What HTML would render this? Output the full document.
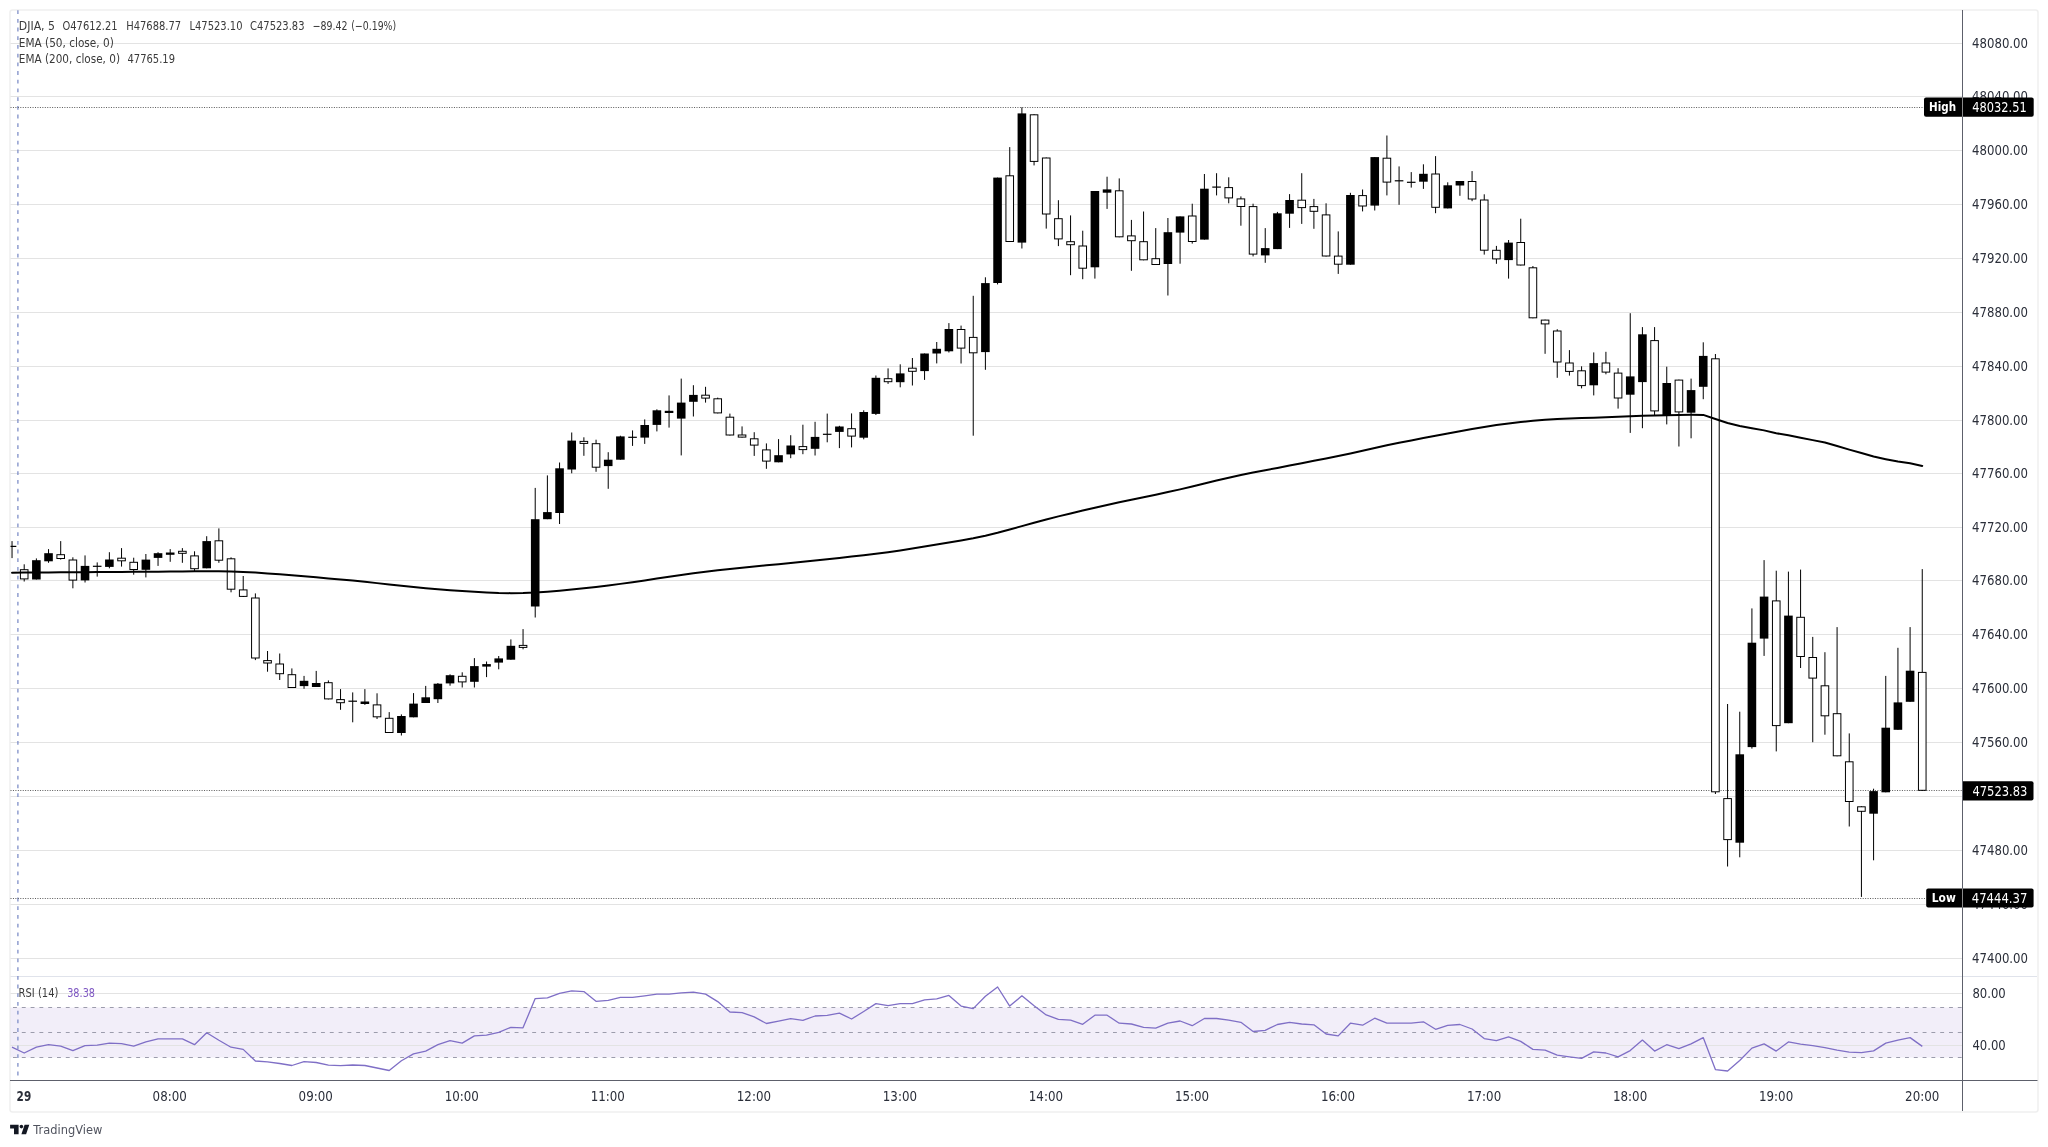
<!DOCTYPE html><html><head><meta charset="utf-8"><title>DJIA 5m chart</title><style>html,body{margin:0;padding:0;background:#fff;width:2048px;height:1147px;overflow:hidden}svg{display:block;will-change:transform}text{font-family:'DejaVu Sans', 'Liberation Sans', sans-serif}</style></head><body>
<svg width="2048" height="1147" viewBox="0 0 2048 1147">
<rect x="0" y="0" width="2048" height="1147" fill="#ffffff"/>
<rect x="10.0" y="10.0" width="2028.0" height="1102.0" rx="2.5" fill="#fff" stroke="#efefef" stroke-width="1.5"/>
<defs><clipPath id="mainclip"><rect x="10.5" y="10.5" width="1951.5" height="965.5"/></clipPath><clipPath id="rsiclip"><rect x="10.5" y="977" width="1951.5" height="103"/></clipPath></defs>
<line x1="10.5" x2="1962" y1="958.5" y2="958.5" stroke="#e3e3e3" stroke-width="1"/>
<line x1="10.5" x2="1962" y1="904.5" y2="904.5" stroke="#e3e3e3" stroke-width="1"/>
<line x1="10.5" x2="1962" y1="850.5" y2="850.5" stroke="#e3e3e3" stroke-width="1"/>
<line x1="10.5" x2="1962" y1="796.5" y2="796.5" stroke="#e3e3e3" stroke-width="1"/>
<line x1="10.5" x2="1962" y1="742.5" y2="742.5" stroke="#e3e3e3" stroke-width="1"/>
<line x1="10.5" x2="1962" y1="688.5" y2="688.5" stroke="#e3e3e3" stroke-width="1"/>
<line x1="10.5" x2="1962" y1="634.5" y2="634.5" stroke="#e3e3e3" stroke-width="1"/>
<line x1="10.5" x2="1962" y1="580.5" y2="580.5" stroke="#e3e3e3" stroke-width="1"/>
<line x1="10.5" x2="1962" y1="527.5" y2="527.5" stroke="#e3e3e3" stroke-width="1"/>
<line x1="10.5" x2="1962" y1="473.5" y2="473.5" stroke="#e3e3e3" stroke-width="1"/>
<line x1="10.5" x2="1962" y1="420.5" y2="420.5" stroke="#e3e3e3" stroke-width="1"/>
<line x1="10.5" x2="1962" y1="366.5" y2="366.5" stroke="#e3e3e3" stroke-width="1"/>
<line x1="10.5" x2="1962" y1="312.5" y2="312.5" stroke="#e3e3e3" stroke-width="1"/>
<line x1="10.5" x2="1962" y1="258.5" y2="258.5" stroke="#e3e3e3" stroke-width="1"/>
<line x1="10.5" x2="1962" y1="204.5" y2="204.5" stroke="#e3e3e3" stroke-width="1"/>
<line x1="10.5" x2="1962" y1="150.5" y2="150.5" stroke="#e3e3e3" stroke-width="1"/>
<line x1="10.5" x2="1962" y1="96.5" y2="96.5" stroke="#e3e3e3" stroke-width="1"/>
<line x1="10.5" x2="1962" y1="43.5" y2="43.5" stroke="#e3e3e3" stroke-width="1"/>
<rect x="10.5" y="1007.5" width="1951.5" height="50.0" fill="#7e57c2" fill-opacity="0.1"/>
<line x1="10.5" x2="1962" y1="993.5" y2="993.5" stroke="#e3e3e3" stroke-width="1"/>
<line x1="10.5" x2="1962" y1="1045.5" y2="1045.5" stroke="#e3e3e3" stroke-width="1"/>
<line x1="13" x2="1962" y1="1007.5" y2="1007.5" stroke="#9c9cac" stroke-width="1" stroke-dasharray="3.9 4.9"/>
<line x1="13" x2="1962" y1="1032.5" y2="1032.5" stroke="#9c9cac" stroke-width="1" stroke-dasharray="3.9 4.9"/>
<line x1="13" x2="1962" y1="1057.5" y2="1057.5" stroke="#9c9cac" stroke-width="1" stroke-dasharray="3.9 4.9"/>
<line x1="10.5" x2="2037" y1="976.5" y2="976.5" stroke="#e0e3eb" stroke-width="1"/>
<line x1="17.9" x2="17.9" y1="10.2" y2="1080" stroke="#7f8fc8" stroke-width="1.3" stroke-dasharray="3.8 4.9"/>
<line x1="10.5" x2="1924" y1="107.5" y2="107.5" stroke="#5a5a5a" stroke-width="1" stroke-dasharray="1 1.45"/>
<line x1="10.5" x2="1926" y1="898.5" y2="898.5" stroke="#5a5a5a" stroke-width="1" stroke-dasharray="1 1.45"/>
<line x1="10.5" x2="1962" y1="790.5" y2="790.5" stroke="#5a5a5a" stroke-width="1" stroke-dasharray="1 1.45"/>
<g clip-path="url(#mainclip)">
<rect x="11.53" y="541.1" width="1" height="17.0" fill="#000"/>
<rect x="7.73" y="545.8" width="8.60" height="1.2" fill="#000"/>
<rect x="23.70" y="564.3" width="1" height="17.2" fill="#000"/>
<rect x="19.90" y="569.2" width="8.60" height="10.2" fill="#000"/>
<rect x="20.90" y="570.2" width="6.60" height="8.2" fill="#fff"/>
<rect x="35.87" y="558.4" width="1" height="21.1" fill="#000"/>
<rect x="32.07" y="560.2" width="8.60" height="19.3" fill="#000"/>
<rect x="48.03" y="549.1" width="1" height="13.7" fill="#000"/>
<rect x="44.23" y="553.2" width="8.60" height="8.1" fill="#000"/>
<rect x="60.20" y="541.1" width="1" height="18.5" fill="#000"/>
<rect x="56.40" y="554.2" width="8.60" height="4.8" fill="#000"/>
<rect x="57.40" y="555.2" width="6.60" height="2.8" fill="#fff"/>
<rect x="72.37" y="557.3" width="1" height="31.0" fill="#000"/>
<rect x="68.57" y="559.5" width="8.60" height="21.1" fill="#000"/>
<rect x="69.57" y="560.5" width="6.60" height="19.1" fill="#fff"/>
<rect x="84.53" y="555.4" width="1" height="27.1" fill="#000"/>
<rect x="80.73" y="565.9" width="8.60" height="14.5" fill="#000"/>
<rect x="96.70" y="562.4" width="1" height="14.2" fill="#000"/>
<rect x="92.90" y="565.7" width="8.60" height="1.2" fill="#000"/>
<rect x="108.87" y="552.2" width="1" height="16.1" fill="#000"/>
<rect x="105.07" y="559.5" width="8.60" height="7.4" fill="#000"/>
<rect x="121.04" y="548.1" width="1" height="18.5" fill="#000"/>
<rect x="117.24" y="557.7" width="8.60" height="3.6" fill="#000"/>
<rect x="118.24" y="558.7" width="6.60" height="1.6" fill="#fff"/>
<rect x="133.20" y="557.7" width="1" height="17.0" fill="#000"/>
<rect x="129.40" y="561.8" width="8.60" height="8.2" fill="#000"/>
<rect x="130.40" y="562.8" width="6.60" height="6.2" fill="#fff"/>
<rect x="145.37" y="554.0" width="1" height="23.4" fill="#000"/>
<rect x="141.57" y="559.6" width="8.60" height="10.2" fill="#000"/>
<rect x="157.54" y="552.2" width="1" height="13.7" fill="#000"/>
<rect x="153.74" y="553.2" width="8.60" height="4.7" fill="#000"/>
<rect x="169.70" y="549.1" width="1" height="12.7" fill="#000"/>
<rect x="165.90" y="552.5" width="8.60" height="2.3" fill="#000"/>
<rect x="181.87" y="548.1" width="1" height="14.7" fill="#000"/>
<rect x="178.07" y="550.8" width="8.60" height="3.0" fill="#000"/>
<rect x="179.07" y="551.8" width="6.60" height="1.0" fill="#fff"/>
<rect x="194.04" y="551.3" width="1" height="19.7" fill="#000"/>
<rect x="190.24" y="555.4" width="8.60" height="13.8" fill="#000"/>
<rect x="191.24" y="556.4" width="6.60" height="11.8" fill="#fff"/>
<rect x="206.20" y="536.2" width="1" height="32.1" fill="#000"/>
<rect x="202.40" y="541.1" width="8.60" height="27.2" fill="#000"/>
<rect x="218.37" y="528.4" width="1" height="34.4" fill="#000"/>
<rect x="214.57" y="540.3" width="8.60" height="20.4" fill="#000"/>
<rect x="215.57" y="541.3" width="6.60" height="18.4" fill="#fff"/>
<rect x="230.54" y="557.3" width="1" height="35.0" fill="#000"/>
<rect x="226.74" y="558.3" width="8.60" height="31.4" fill="#000"/>
<rect x="227.74" y="559.3" width="6.60" height="29.4" fill="#fff"/>
<rect x="242.71" y="576.0" width="1" height="21.0" fill="#000"/>
<rect x="238.91" y="589.4" width="8.60" height="7.5" fill="#000"/>
<rect x="239.91" y="590.4" width="6.60" height="5.5" fill="#fff"/>
<rect x="254.87" y="593.4" width="1" height="66.7" fill="#000"/>
<rect x="251.07" y="597.5" width="8.60" height="61.0" fill="#000"/>
<rect x="252.07" y="598.5" width="6.60" height="59.0" fill="#fff"/>
<rect x="267.04" y="651.0" width="1" height="20.7" fill="#000"/>
<rect x="263.24" y="660.1" width="8.60" height="3.4" fill="#000"/>
<rect x="264.24" y="661.1" width="6.60" height="1.4" fill="#fff"/>
<rect x="279.21" y="653.5" width="1" height="26.5" fill="#000"/>
<rect x="275.41" y="663.5" width="8.60" height="10.7" fill="#000"/>
<rect x="276.41" y="664.5" width="6.60" height="8.7" fill="#fff"/>
<rect x="291.37" y="668.4" width="1" height="19.6" fill="#000"/>
<rect x="287.57" y="674.2" width="8.60" height="13.8" fill="#000"/>
<rect x="288.57" y="675.2" width="6.60" height="11.8" fill="#fff"/>
<rect x="303.54" y="675.9" width="1" height="12.9" fill="#000"/>
<rect x="299.74" y="680.8" width="8.60" height="5.3" fill="#000"/>
<rect x="315.71" y="670.9" width="1" height="16.1" fill="#000"/>
<rect x="311.91" y="683.0" width="8.60" height="4.0" fill="#000"/>
<rect x="327.88" y="680.4" width="1" height="19.0" fill="#000"/>
<rect x="324.07" y="682.2" width="8.60" height="17.2" fill="#000"/>
<rect x="325.07" y="683.2" width="6.60" height="15.2" fill="#fff"/>
<rect x="340.04" y="689.1" width="1" height="20.7" fill="#000"/>
<rect x="336.24" y="699.1" width="8.60" height="4.1" fill="#000"/>
<rect x="337.24" y="700.1" width="6.60" height="2.1" fill="#fff"/>
<rect x="352.21" y="692.4" width="1" height="29.9" fill="#000"/>
<rect x="348.41" y="700.6" width="8.60" height="1.2" fill="#000"/>
<rect x="364.38" y="689.1" width="1" height="15.8" fill="#000"/>
<rect x="360.58" y="701.5" width="8.60" height="2.5" fill="#000"/>
<rect x="376.54" y="693.3" width="1" height="25.7" fill="#000"/>
<rect x="372.74" y="704.4" width="8.60" height="12.9" fill="#000"/>
<rect x="373.74" y="705.4" width="6.60" height="10.9" fill="#fff"/>
<rect x="388.71" y="712.1" width="1" height="20.9" fill="#000"/>
<rect x="384.91" y="717.8" width="8.60" height="15.2" fill="#000"/>
<rect x="385.91" y="718.8" width="6.60" height="13.2" fill="#fff"/>
<rect x="400.88" y="714.4" width="1" height="21.1" fill="#000"/>
<rect x="397.08" y="716.0" width="8.60" height="17.0" fill="#000"/>
<rect x="413.04" y="693.1" width="1" height="24.2" fill="#000"/>
<rect x="409.24" y="703.6" width="8.60" height="13.7" fill="#000"/>
<rect x="425.21" y="685.9" width="1" height="17.1" fill="#000"/>
<rect x="421.41" y="697.3" width="8.60" height="5.7" fill="#000"/>
<rect x="437.38" y="683.0" width="1" height="20.0" fill="#000"/>
<rect x="433.58" y="683.7" width="8.60" height="15.5" fill="#000"/>
<rect x="449.54" y="674.3" width="1" height="11.4" fill="#000"/>
<rect x="445.74" y="675.2" width="8.60" height="8.2" fill="#000"/>
<rect x="461.71" y="672.3" width="1" height="15.2" fill="#000"/>
<rect x="457.91" y="675.8" width="8.60" height="6.6" fill="#000"/>
<rect x="458.91" y="676.8" width="6.60" height="4.6" fill="#fff"/>
<rect x="473.88" y="658.1" width="1" height="29.4" fill="#000"/>
<rect x="470.08" y="666.1" width="8.60" height="15.7" fill="#000"/>
<rect x="486.05" y="661.5" width="1" height="15.6" fill="#000"/>
<rect x="482.25" y="664.1" width="8.60" height="2.5" fill="#000"/>
<rect x="498.21" y="656.0" width="1" height="13.3" fill="#000"/>
<rect x="494.41" y="658.4" width="8.60" height="4.2" fill="#000"/>
<rect x="510.38" y="639.4" width="1" height="20.3" fill="#000"/>
<rect x="506.58" y="645.8" width="8.60" height="13.9" fill="#000"/>
<rect x="522.55" y="629.1" width="1" height="20.2" fill="#000"/>
<rect x="518.75" y="644.9" width="8.60" height="3.0" fill="#000"/>
<rect x="519.75" y="645.9" width="6.60" height="1.0" fill="#fff"/>
<rect x="534.71" y="487.9" width="1" height="129.6" fill="#000"/>
<rect x="530.91" y="519.2" width="8.60" height="87.3" fill="#000"/>
<rect x="546.88" y="475.4" width="1" height="43.8" fill="#000"/>
<rect x="543.08" y="512.1" width="8.60" height="7.1" fill="#000"/>
<rect x="559.05" y="462.5" width="1" height="61.5" fill="#000"/>
<rect x="555.25" y="468.3" width="8.60" height="44.7" fill="#000"/>
<rect x="571.22" y="432.5" width="1" height="40.8" fill="#000"/>
<rect x="567.42" y="440.6" width="8.60" height="28.9" fill="#000"/>
<rect x="583.38" y="437.3" width="1" height="18.5" fill="#000"/>
<rect x="579.58" y="440.9" width="8.60" height="3.0" fill="#000"/>
<rect x="580.58" y="441.9" width="6.60" height="1.0" fill="#fff"/>
<rect x="595.55" y="439.7" width="1" height="32.1" fill="#000"/>
<rect x="591.75" y="443.2" width="8.60" height="24.5" fill="#000"/>
<rect x="592.75" y="444.2" width="6.60" height="22.5" fill="#fff"/>
<rect x="607.72" y="452.2" width="1" height="36.6" fill="#000"/>
<rect x="603.92" y="459.7" width="8.60" height="6.4" fill="#000"/>
<rect x="619.88" y="435.7" width="1" height="24.0" fill="#000"/>
<rect x="616.08" y="436.4" width="8.60" height="23.3" fill="#000"/>
<rect x="632.05" y="430.4" width="1" height="15.5" fill="#000"/>
<rect x="628.25" y="436.7" width="8.60" height="1.2" fill="#000"/>
<rect x="644.22" y="419.4" width="1" height="24.5" fill="#000"/>
<rect x="640.42" y="425.0" width="8.60" height="12.6" fill="#000"/>
<rect x="656.38" y="409.3" width="1" height="22.1" fill="#000"/>
<rect x="652.58" y="410.3" width="8.60" height="14.6" fill="#000"/>
<rect x="668.55" y="395.4" width="1" height="32.2" fill="#000"/>
<rect x="664.75" y="410.8" width="8.60" height="2.2" fill="#000"/>
<rect x="680.72" y="378.6" width="1" height="76.8" fill="#000"/>
<rect x="676.92" y="402.6" width="8.60" height="16.0" fill="#000"/>
<rect x="692.88" y="385.2" width="1" height="31.3" fill="#000"/>
<rect x="689.09" y="394.9" width="8.60" height="6.9" fill="#000"/>
<rect x="705.05" y="386.8" width="1" height="15.8" fill="#000"/>
<rect x="701.25" y="394.7" width="8.60" height="3.9" fill="#000"/>
<rect x="702.25" y="395.7" width="6.60" height="1.9" fill="#fff"/>
<rect x="717.22" y="397.6" width="1" height="15.8" fill="#000"/>
<rect x="713.42" y="398.3" width="8.60" height="15.1" fill="#000"/>
<rect x="714.42" y="399.3" width="6.60" height="13.1" fill="#fff"/>
<rect x="729.39" y="413.6" width="1" height="21.9" fill="#000"/>
<rect x="725.59" y="416.7" width="8.60" height="18.8" fill="#000"/>
<rect x="726.59" y="417.7" width="6.60" height="16.8" fill="#fff"/>
<rect x="741.55" y="426.4" width="1" height="11.2" fill="#000"/>
<rect x="737.75" y="434.5" width="8.60" height="3.1" fill="#000"/>
<rect x="738.75" y="435.5" width="6.60" height="1.1" fill="#fff"/>
<rect x="753.72" y="432.2" width="1" height="23.7" fill="#000"/>
<rect x="749.92" y="438.3" width="8.60" height="7.3" fill="#000"/>
<rect x="750.92" y="439.3" width="6.60" height="5.3" fill="#fff"/>
<rect x="765.89" y="443.4" width="1" height="25.4" fill="#000"/>
<rect x="762.09" y="449.4" width="8.60" height="12.2" fill="#000"/>
<rect x="763.09" y="450.4" width="6.60" height="10.2" fill="#fff"/>
<rect x="778.05" y="439.1" width="1" height="23.2" fill="#000"/>
<rect x="774.25" y="455.2" width="8.60" height="7.1" fill="#000"/>
<rect x="790.22" y="435.2" width="1" height="23.0" fill="#000"/>
<rect x="786.42" y="445.5" width="8.60" height="8.9" fill="#000"/>
<rect x="802.39" y="424.7" width="1" height="29.5" fill="#000"/>
<rect x="798.59" y="446.1" width="8.60" height="4.0" fill="#000"/>
<rect x="799.59" y="447.1" width="6.60" height="2.0" fill="#fff"/>
<rect x="814.56" y="421.8" width="1" height="33.7" fill="#000"/>
<rect x="810.76" y="436.9" width="8.60" height="11.9" fill="#000"/>
<rect x="826.72" y="413.6" width="1" height="28.7" fill="#000"/>
<rect x="822.92" y="433.7" width="8.60" height="1.2" fill="#000"/>
<rect x="838.89" y="425.8" width="1" height="22.3" fill="#000"/>
<rect x="835.09" y="426.5" width="8.60" height="5.4" fill="#000"/>
<rect x="851.06" y="413.4" width="1" height="34.0" fill="#000"/>
<rect x="847.26" y="428.2" width="8.60" height="8.4" fill="#000"/>
<rect x="848.26" y="429.2" width="6.60" height="6.4" fill="#fff"/>
<rect x="863.22" y="410.3" width="1" height="29.0" fill="#000"/>
<rect x="859.42" y="412.0" width="8.60" height="25.7" fill="#000"/>
<rect x="875.39" y="375.5" width="1" height="39.5" fill="#000"/>
<rect x="871.59" y="377.8" width="8.60" height="36.1" fill="#000"/>
<rect x="887.56" y="368.4" width="1" height="15.5" fill="#000"/>
<rect x="883.76" y="378.2" width="8.60" height="4.0" fill="#000"/>
<rect x="884.76" y="379.2" width="6.60" height="2.0" fill="#fff"/>
<rect x="899.72" y="364.3" width="1" height="23.0" fill="#000"/>
<rect x="895.92" y="373.4" width="8.60" height="8.8" fill="#000"/>
<rect x="911.89" y="358.0" width="1" height="27.5" fill="#000"/>
<rect x="908.09" y="367.7" width="8.60" height="4.1" fill="#000"/>
<rect x="909.09" y="368.7" width="6.60" height="2.1" fill="#fff"/>
<rect x="924.06" y="353.5" width="1" height="26.4" fill="#000"/>
<rect x="920.26" y="353.5" width="8.60" height="17.6" fill="#000"/>
<rect x="936.23" y="342.0" width="1" height="21.4" fill="#000"/>
<rect x="932.43" y="348.8" width="8.60" height="4.7" fill="#000"/>
<rect x="948.39" y="323.1" width="1" height="29.4" fill="#000"/>
<rect x="944.59" y="329.0" width="8.60" height="22.3" fill="#000"/>
<rect x="960.56" y="325.6" width="1" height="37.9" fill="#000"/>
<rect x="956.76" y="329.0" width="8.60" height="19.6" fill="#000"/>
<rect x="957.76" y="330.0" width="6.60" height="17.6" fill="#fff"/>
<rect x="972.73" y="295.8" width="1" height="139.9" fill="#000"/>
<rect x="968.93" y="336.9" width="8.60" height="16.4" fill="#000"/>
<rect x="969.93" y="337.9" width="6.60" height="14.4" fill="#fff"/>
<rect x="984.89" y="277.3" width="1" height="92.5" fill="#000"/>
<rect x="981.09" y="283.1" width="8.60" height="69.0" fill="#000"/>
<rect x="997.06" y="177.6" width="1" height="106.8" fill="#000"/>
<rect x="993.26" y="177.6" width="8.60" height="105.4" fill="#000"/>
<rect x="1009.23" y="147.1" width="1" height="94.9" fill="#000"/>
<rect x="1005.43" y="175.3" width="8.60" height="66.7" fill="#000"/>
<rect x="1006.43" y="176.3" width="6.60" height="64.7" fill="#fff"/>
<rect x="1021.39" y="107.3" width="1" height="141.2" fill="#000"/>
<rect x="1017.59" y="113.4" width="8.60" height="129.2" fill="#000"/>
<rect x="1033.56" y="114.3" width="1" height="51.1" fill="#000"/>
<rect x="1029.76" y="114.3" width="8.60" height="47.6" fill="#000"/>
<rect x="1030.76" y="115.3" width="6.60" height="45.6" fill="#fff"/>
<rect x="1045.73" y="157.5" width="1" height="71.1" fill="#000"/>
<rect x="1041.93" y="157.5" width="8.60" height="57.0" fill="#000"/>
<rect x="1042.93" y="158.5" width="6.60" height="55.0" fill="#fff"/>
<rect x="1057.89" y="200.2" width="1" height="45.9" fill="#000"/>
<rect x="1054.10" y="218.2" width="8.60" height="21.2" fill="#000"/>
<rect x="1055.10" y="219.2" width="6.60" height="19.2" fill="#fff"/>
<rect x="1070.06" y="215.4" width="1" height="59.8" fill="#000"/>
<rect x="1066.26" y="241.2" width="8.60" height="4.0" fill="#000"/>
<rect x="1067.26" y="242.2" width="6.60" height="2.0" fill="#fff"/>
<rect x="1082.23" y="230.7" width="1" height="48.5" fill="#000"/>
<rect x="1078.43" y="245.5" width="8.60" height="23.2" fill="#000"/>
<rect x="1079.43" y="246.5" width="6.60" height="21.2" fill="#fff"/>
<rect x="1094.40" y="191.0" width="1" height="87.6" fill="#000"/>
<rect x="1090.60" y="191.0" width="8.60" height="76.3" fill="#000"/>
<rect x="1106.56" y="176.7" width="1" height="32.2" fill="#000"/>
<rect x="1102.76" y="189.4" width="8.60" height="3.3" fill="#000"/>
<rect x="1118.73" y="178.4" width="1" height="58.9" fill="#000"/>
<rect x="1114.93" y="190.3" width="8.60" height="47.0" fill="#000"/>
<rect x="1115.93" y="191.3" width="6.60" height="45.0" fill="#fff"/>
<rect x="1130.90" y="219.9" width="1" height="50.9" fill="#000"/>
<rect x="1127.10" y="235.4" width="8.60" height="5.8" fill="#000"/>
<rect x="1128.10" y="236.4" width="6.60" height="3.8" fill="#fff"/>
<rect x="1143.06" y="211.5" width="1" height="48.8" fill="#000"/>
<rect x="1139.26" y="241.2" width="8.60" height="19.1" fill="#000"/>
<rect x="1140.26" y="242.2" width="6.60" height="17.1" fill="#fff"/>
<rect x="1155.23" y="228.1" width="1" height="36.9" fill="#000"/>
<rect x="1151.43" y="258.2" width="8.60" height="6.8" fill="#000"/>
<rect x="1152.43" y="259.2" width="6.60" height="4.8" fill="#fff"/>
<rect x="1167.40" y="218.0" width="1" height="77.5" fill="#000"/>
<rect x="1163.60" y="232.2" width="8.60" height="31.8" fill="#000"/>
<rect x="1179.57" y="216.4" width="1" height="47.3" fill="#000"/>
<rect x="1175.77" y="216.4" width="8.60" height="16.2" fill="#000"/>
<rect x="1191.73" y="203.7" width="1" height="39.9" fill="#000"/>
<rect x="1187.93" y="215.5" width="8.60" height="26.5" fill="#000"/>
<rect x="1188.93" y="216.5" width="6.60" height="24.5" fill="#fff"/>
<rect x="1203.90" y="174.0" width="1" height="65.6" fill="#000"/>
<rect x="1200.10" y="188.7" width="8.60" height="50.9" fill="#000"/>
<rect x="1216.07" y="173.2" width="1" height="22.2" fill="#000"/>
<rect x="1212.27" y="186.5" width="8.60" height="1.2" fill="#000"/>
<rect x="1228.23" y="177.3" width="1" height="26.0" fill="#000"/>
<rect x="1224.43" y="187.1" width="8.60" height="11.3" fill="#000"/>
<rect x="1225.43" y="188.1" width="6.60" height="9.3" fill="#fff"/>
<rect x="1240.40" y="196.4" width="1" height="29.3" fill="#000"/>
<rect x="1236.60" y="198.4" width="8.60" height="8.6" fill="#000"/>
<rect x="1237.60" y="199.4" width="6.60" height="6.6" fill="#fff"/>
<rect x="1252.57" y="203.7" width="1" height="52.7" fill="#000"/>
<rect x="1248.77" y="206.1" width="8.60" height="48.5" fill="#000"/>
<rect x="1249.77" y="207.1" width="6.60" height="46.5" fill="#fff"/>
<rect x="1264.73" y="228.1" width="1" height="34.7" fill="#000"/>
<rect x="1260.93" y="248.1" width="8.60" height="7.3" fill="#000"/>
<rect x="1276.90" y="211.9" width="1" height="37.2" fill="#000"/>
<rect x="1273.10" y="213.3" width="8.60" height="35.8" fill="#000"/>
<rect x="1289.07" y="194.1" width="1" height="33.8" fill="#000"/>
<rect x="1285.27" y="200.0" width="8.60" height="13.7" fill="#000"/>
<rect x="1301.24" y="173.2" width="1" height="50.7" fill="#000"/>
<rect x="1297.44" y="199.7" width="8.60" height="8.4" fill="#000"/>
<rect x="1298.44" y="200.7" width="6.60" height="6.4" fill="#fff"/>
<rect x="1313.40" y="198.9" width="1" height="29.9" fill="#000"/>
<rect x="1309.60" y="206.1" width="8.60" height="5.7" fill="#000"/>
<rect x="1310.60" y="207.1" width="6.60" height="3.7" fill="#fff"/>
<rect x="1325.57" y="203.3" width="1" height="53.2" fill="#000"/>
<rect x="1321.77" y="214.4" width="8.60" height="42.1" fill="#000"/>
<rect x="1322.77" y="215.4" width="6.60" height="40.1" fill="#fff"/>
<rect x="1337.74" y="231.4" width="1" height="42.5" fill="#000"/>
<rect x="1333.94" y="255.6" width="8.60" height="9.1" fill="#000"/>
<rect x="1334.94" y="256.6" width="6.60" height="7.1" fill="#fff"/>
<rect x="1349.90" y="192.8" width="1" height="71.9" fill="#000"/>
<rect x="1346.10" y="195.0" width="8.60" height="69.7" fill="#000"/>
<rect x="1362.07" y="189.5" width="1" height="21.9" fill="#000"/>
<rect x="1358.27" y="195.1" width="8.60" height="11.4" fill="#000"/>
<rect x="1359.27" y="196.1" width="6.60" height="9.4" fill="#fff"/>
<rect x="1374.24" y="157.1" width="1" height="53.4" fill="#000"/>
<rect x="1370.44" y="157.1" width="8.60" height="48.5" fill="#000"/>
<rect x="1386.40" y="135.5" width="1" height="59.9" fill="#000"/>
<rect x="1382.60" y="157.7" width="8.60" height="24.9" fill="#000"/>
<rect x="1383.60" y="158.7" width="6.60" height="22.9" fill="#fff"/>
<rect x="1398.57" y="166.4" width="1" height="38.4" fill="#000"/>
<rect x="1394.77" y="180.2" width="8.60" height="1.2" fill="#000"/>
<rect x="1410.74" y="172.1" width="1" height="15.5" fill="#000"/>
<rect x="1406.94" y="181.7" width="8.60" height="1.2" fill="#000"/>
<rect x="1422.90" y="164.3" width="1" height="24.6" fill="#000"/>
<rect x="1419.11" y="173.8" width="8.60" height="7.9" fill="#000"/>
<rect x="1435.07" y="156.1" width="1" height="57.1" fill="#000"/>
<rect x="1431.27" y="173.5" width="8.60" height="34.3" fill="#000"/>
<rect x="1432.27" y="174.5" width="6.60" height="32.3" fill="#fff"/>
<rect x="1447.24" y="182.3" width="1" height="26.1" fill="#000"/>
<rect x="1443.44" y="185.3" width="8.60" height="23.1" fill="#000"/>
<rect x="1459.41" y="181.0" width="1" height="14.8" fill="#000"/>
<rect x="1455.61" y="181.0" width="8.60" height="4.5" fill="#000"/>
<rect x="1471.57" y="171.1" width="1" height="30.1" fill="#000"/>
<rect x="1467.77" y="181.0" width="8.60" height="18.5" fill="#000"/>
<rect x="1468.77" y="182.0" width="6.60" height="16.5" fill="#fff"/>
<rect x="1483.74" y="194.3" width="1" height="60.3" fill="#000"/>
<rect x="1479.94" y="199.5" width="8.60" height="51.2" fill="#000"/>
<rect x="1480.94" y="200.5" width="6.60" height="49.2" fill="#fff"/>
<rect x="1495.91" y="245.9" width="1" height="17.9" fill="#000"/>
<rect x="1492.11" y="249.8" width="8.60" height="9.6" fill="#000"/>
<rect x="1493.11" y="250.8" width="6.60" height="7.6" fill="#fff"/>
<rect x="1508.07" y="240.0" width="1" height="38.6" fill="#000"/>
<rect x="1504.27" y="242.6" width="8.60" height="17.5" fill="#000"/>
<rect x="1520.24" y="218.7" width="1" height="46.8" fill="#000"/>
<rect x="1516.44" y="242.0" width="8.60" height="23.5" fill="#000"/>
<rect x="1517.44" y="243.0" width="6.60" height="21.5" fill="#fff"/>
<rect x="1532.41" y="266.0" width="1" height="52.3" fill="#000"/>
<rect x="1528.61" y="267.3" width="8.60" height="51.0" fill="#000"/>
<rect x="1529.61" y="268.3" width="6.60" height="49.0" fill="#fff"/>
<rect x="1544.58" y="319.6" width="1" height="34.2" fill="#000"/>
<rect x="1540.78" y="319.6" width="8.60" height="4.8" fill="#000"/>
<rect x="1541.78" y="320.6" width="6.60" height="2.8" fill="#fff"/>
<rect x="1556.74" y="329.2" width="1" height="48.6" fill="#000"/>
<rect x="1552.94" y="330.5" width="8.60" height="32.0" fill="#000"/>
<rect x="1553.94" y="331.5" width="6.60" height="30.0" fill="#fff"/>
<rect x="1568.91" y="350.1" width="1" height="25.5" fill="#000"/>
<rect x="1565.11" y="362.5" width="8.60" height="9.4" fill="#000"/>
<rect x="1566.11" y="363.5" width="6.60" height="7.4" fill="#fff"/>
<rect x="1581.08" y="366.3" width="1" height="22.1" fill="#000"/>
<rect x="1577.28" y="370.3" width="8.60" height="15.8" fill="#000"/>
<rect x="1578.28" y="371.3" width="6.60" height="13.8" fill="#fff"/>
<rect x="1593.24" y="352.4" width="1" height="43.0" fill="#000"/>
<rect x="1589.44" y="363.1" width="8.60" height="22.2" fill="#000"/>
<rect x="1605.41" y="351.8" width="1" height="22.5" fill="#000"/>
<rect x="1601.61" y="362.5" width="8.60" height="10.1" fill="#000"/>
<rect x="1602.61" y="363.5" width="6.60" height="8.1" fill="#fff"/>
<rect x="1617.58" y="368.2" width="1" height="40.4" fill="#000"/>
<rect x="1613.78" y="372.6" width="8.60" height="25.9" fill="#000"/>
<rect x="1614.78" y="373.6" width="6.60" height="23.9" fill="#fff"/>
<rect x="1629.74" y="313.2" width="1" height="119.7" fill="#000"/>
<rect x="1625.94" y="376.4" width="8.60" height="18.3" fill="#000"/>
<rect x="1641.91" y="327.1" width="1" height="101.1" fill="#000"/>
<rect x="1638.11" y="334.3" width="8.60" height="47.8" fill="#000"/>
<rect x="1654.08" y="327.1" width="1" height="87.9" fill="#000"/>
<rect x="1650.28" y="340.1" width="8.60" height="71.3" fill="#000"/>
<rect x="1651.28" y="341.1" width="6.60" height="69.3" fill="#fff"/>
<rect x="1666.25" y="366.7" width="1" height="57.7" fill="#000"/>
<rect x="1662.45" y="383.0" width="8.60" height="32.2" fill="#000"/>
<rect x="1678.41" y="379.6" width="1" height="66.9" fill="#000"/>
<rect x="1674.61" y="379.6" width="8.60" height="32.8" fill="#000"/>
<rect x="1675.61" y="380.6" width="6.60" height="30.8" fill="#fff"/>
<rect x="1690.58" y="378.6" width="1" height="59.7" fill="#000"/>
<rect x="1686.78" y="390.1" width="8.60" height="22.6" fill="#000"/>
<rect x="1702.75" y="342.3" width="1" height="56.9" fill="#000"/>
<rect x="1698.95" y="355.9" width="8.60" height="30.9" fill="#000"/>
<rect x="1714.91" y="354.0" width="1" height="440.0" fill="#000"/>
<rect x="1711.11" y="358.3" width="8.60" height="434.0" fill="#000"/>
<rect x="1712.11" y="359.3" width="6.60" height="432.0" fill="#fff"/>
<rect x="1727.08" y="704.0" width="1" height="162.5" fill="#000"/>
<rect x="1723.28" y="798.1" width="8.60" height="42.0" fill="#000"/>
<rect x="1724.28" y="799.1" width="6.60" height="40.0" fill="#fff"/>
<rect x="1739.25" y="711.7" width="1" height="145.6" fill="#000"/>
<rect x="1735.45" y="754.3" width="8.60" height="88.4" fill="#000"/>
<rect x="1751.41" y="608.4" width="1" height="140.2" fill="#000"/>
<rect x="1747.61" y="642.7" width="8.60" height="104.4" fill="#000"/>
<rect x="1763.58" y="560.1" width="1" height="95.8" fill="#000"/>
<rect x="1759.78" y="596.6" width="8.60" height="42.0" fill="#000"/>
<rect x="1775.75" y="570.7" width="1" height="180.7" fill="#000"/>
<rect x="1771.95" y="600.4" width="8.60" height="125.7" fill="#000"/>
<rect x="1772.95" y="601.4" width="6.60" height="123.7" fill="#fff"/>
<rect x="1787.91" y="571.6" width="1" height="151.6" fill="#000"/>
<rect x="1784.12" y="615.6" width="8.60" height="107.6" fill="#000"/>
<rect x="1800.08" y="569.6" width="1" height="98.4" fill="#000"/>
<rect x="1796.28" y="616.8" width="8.60" height="40.2" fill="#000"/>
<rect x="1797.28" y="617.8" width="6.60" height="38.2" fill="#fff"/>
<rect x="1812.25" y="636.9" width="1" height="105.3" fill="#000"/>
<rect x="1808.45" y="657.0" width="8.60" height="21.6" fill="#000"/>
<rect x="1809.45" y="658.0" width="6.60" height="19.6" fill="#fff"/>
<rect x="1824.42" y="652.2" width="1" height="82.5" fill="#000"/>
<rect x="1820.62" y="685.3" width="8.60" height="31.0" fill="#000"/>
<rect x="1821.62" y="686.3" width="6.60" height="29.0" fill="#fff"/>
<rect x="1836.58" y="627.1" width="1" height="129.2" fill="#000"/>
<rect x="1832.78" y="713.2" width="8.60" height="43.1" fill="#000"/>
<rect x="1833.78" y="714.2" width="6.60" height="41.1" fill="#fff"/>
<rect x="1848.75" y="733.4" width="1" height="93.1" fill="#000"/>
<rect x="1844.95" y="761.3" width="8.60" height="40.7" fill="#000"/>
<rect x="1845.95" y="762.3" width="6.60" height="38.7" fill="#fff"/>
<rect x="1860.92" y="806.3" width="1" height="90.6" fill="#000"/>
<rect x="1857.12" y="806.3" width="8.60" height="5.5" fill="#000"/>
<rect x="1858.12" y="807.3" width="6.60" height="3.5" fill="#fff"/>
<rect x="1873.08" y="788.7" width="1" height="71.6" fill="#000"/>
<rect x="1869.28" y="791.1" width="8.60" height="22.6" fill="#000"/>
<rect x="1885.25" y="675.9" width="1" height="116.4" fill="#000"/>
<rect x="1881.45" y="727.7" width="8.60" height="64.6" fill="#000"/>
<rect x="1897.42" y="647.8" width="1" height="82.0" fill="#000"/>
<rect x="1893.62" y="702.4" width="8.60" height="27.4" fill="#000"/>
<rect x="1909.59" y="627.1" width="1" height="74.7" fill="#000"/>
<rect x="1905.79" y="670.7" width="8.60" height="31.1" fill="#000"/>
<rect x="1921.75" y="569.1" width="1" height="221.7" fill="#000"/>
<rect x="1917.95" y="671.9" width="8.60" height="118.9" fill="#000"/>
<rect x="1918.95" y="672.9" width="6.60" height="116.9" fill="#fff"/>
</g>
<g clip-path="url(#mainclip)"><polyline points="12.03,572.69 24.20,572.60 36.37,572.51 48.53,572.43 60.70,572.34 72.87,572.25 85.03,572.17 97.20,572.08 109.37,571.99 121.54,571.91 133.70,571.82 145.87,571.73 158.04,571.64 170.20,571.55 182.37,571.44 194.54,571.33 206.70,571.25 218.87,571.29 231.04,571.49 243.21,571.91 255.37,572.55 267.54,573.38 279.71,574.31 291.87,575.31 304.04,576.33 316.21,577.36 328.38,578.41 340.54,579.48 352.71,580.61 364.88,581.82 377.04,583.12 389.21,584.45 401.38,585.79 413.54,587.07 425.71,588.25 437.88,589.30 450.04,590.25 462.21,591.11 474.38,591.87 486.55,592.53 498.71,592.98 510.88,593.15 523.05,592.98 535.21,592.49 547.38,591.69 559.55,590.68 571.72,589.53 583.88,588.30 596.05,586.95 608.22,585.47 620.38,583.88 632.55,582.17 644.72,580.39 656.88,578.57 669.05,576.76 681.22,575.01 693.38,573.34 705.55,571.79 717.72,570.34 729.89,569.00 742.05,567.74 754.22,566.53 766.39,565.34 778.55,564.16 790.72,562.96 802.89,561.73 815.06,560.47 827.22,559.20 839.39,557.91 851.56,556.60 863.72,555.23 875.89,553.77 888.06,552.18 900.22,550.42 912.39,548.52 924.56,546.51 936.73,544.47 948.89,542.47 961.06,540.43 973.23,538.24 985.39,535.72 997.56,532.84 1009.73,529.58 1021.89,526.16 1034.06,522.72 1046.23,519.48 1058.39,516.39 1070.56,513.44 1082.73,510.54 1094.90,507.73 1107.06,504.98 1119.23,502.32 1131.40,499.76 1143.56,497.24 1155.73,494.71 1167.90,492.09 1180.07,489.37 1192.23,486.50 1204.40,483.54 1216.57,480.56 1228.73,477.70 1240.90,475.03 1253.07,472.58 1265.23,470.24 1277.40,467.93 1289.57,465.58 1301.74,463.21 1313.90,460.81 1326.07,458.41 1338.24,455.96 1350.40,453.42 1362.57,450.73 1374.74,447.99 1386.90,445.31 1399.07,442.78 1411.24,440.40 1423.40,438.10 1435.57,435.80 1447.74,433.49 1459.91,431.20 1472.07,429.01 1484.24,426.95 1496.41,425.10 1508.57,423.45 1520.74,422.01 1532.91,420.77 1545.08,419.79 1557.24,419.03 1569.41,418.47 1581.58,418.01 1593.74,417.63 1605.91,417.22 1618.08,416.78 1630.24,416.31 1642.41,415.87 1654.58,415.46 1666.75,415.17 1678.91,414.94 1691.08,414.87 1703.25,414.89 1715.41,419.03 1727.58,422.98 1739.75,425.96 1751.91,428.19 1764.08,430.39 1776.25,433.25 1788.41,435.29 1800.58,437.69 1812.75,440.12 1824.92,442.54 1837.08,446.04 1849.25,449.61 1861.42,453.08 1873.58,456.45 1885.75,459.15 1897.92,461.58 1910.09,463.28 1922.25,465.90" fill="none" stroke="#000" stroke-width="2" stroke-linejoin="round" stroke-linecap="round"/></g>
<g clip-path="url(#rsiclip)"><polyline points="12.0,1047.2 24.2,1053.0 36.4,1047.2 48.5,1044.7 60.7,1046.1 72.9,1050.6 85.0,1045.6 97.2,1045.2 109.4,1043.1 121.5,1043.6 133.7,1046.1 145.9,1041.8 158.0,1038.9 170.2,1038.9 182.4,1038.9 194.5,1044.7 206.7,1032.8 218.9,1040.3 231.0,1047.2 243.2,1049.4 255.4,1061.0 267.5,1061.8 279.7,1063.5 291.9,1065.5 304.0,1061.7 316.2,1062.5 328.4,1065.2 340.5,1065.6 352.7,1065.0 364.9,1065.5 377.0,1068.0 389.2,1070.5 401.4,1060.8 413.5,1053.9 425.7,1051.1 437.9,1044.7 450.0,1040.6 462.2,1043.1 474.4,1035.9 486.5,1035.1 498.7,1032.3 510.9,1027.3 523.0,1027.8 535.2,998.6 547.4,997.8 559.5,993.3 571.7,990.8 583.9,991.6 596.0,1001.3 608.2,1000.3 620.4,997.4 632.6,997.4 644.7,995.8 656.9,994.1 669.1,994.1 681.2,992.9 693.4,992.1 705.6,994.1 717.7,1001.6 729.9,1012.0 742.1,1012.7 754.2,1016.9 766.4,1023.5 778.6,1021.2 790.7,1018.7 802.9,1020.3 815.1,1016.0 827.2,1015.4 839.4,1013.2 851.6,1019.0 863.7,1011.5 875.9,1003.6 888.1,1005.7 900.2,1003.7 912.4,1003.7 924.6,999.9 936.7,998.8 948.9,995.4 961.1,1006.1 973.2,1008.6 985.4,996.3 997.6,987.0 1009.7,1006.1 1021.9,995.8 1034.1,1005.7 1046.2,1014.9 1058.4,1019.3 1070.6,1020.2 1082.7,1024.3 1094.9,1015.2 1107.1,1015.2 1119.2,1023.2 1131.4,1024.0 1143.6,1027.3 1155.7,1028.1 1167.9,1023.2 1180.1,1021.0 1192.2,1025.7 1204.4,1018.5 1216.6,1018.5 1228.7,1020.2 1240.9,1022.3 1253.1,1031.5 1265.2,1030.3 1277.4,1024.5 1289.6,1022.3 1301.7,1024.0 1313.9,1024.8 1326.1,1034.0 1338.2,1035.9 1350.4,1023.2 1362.6,1025.2 1374.7,1018.2 1386.9,1023.2 1399.1,1023.2 1411.2,1023.2 1423.4,1021.8 1435.6,1029.3 1447.7,1025.3 1459.9,1024.5 1472.1,1029.0 1484.2,1038.6 1496.4,1040.6 1508.6,1036.9 1520.7,1041.4 1532.9,1049.4 1545.1,1050.2 1557.2,1055.2 1569.4,1056.9 1581.6,1058.4 1593.7,1051.9 1605.9,1053.0 1618.1,1056.8 1630.2,1050.6 1642.4,1040.1 1654.6,1051.1 1666.7,1044.7 1678.9,1048.6 1691.1,1043.9 1703.2,1037.6 1715.4,1069.6 1727.6,1071.0 1739.7,1060.5 1751.9,1048.1 1764.1,1043.9 1776.2,1051.1 1788.4,1041.9 1800.6,1044.2 1812.7,1045.6 1824.9,1047.7 1837.1,1050.1 1849.2,1052.2 1861.4,1052.7 1873.6,1050.9 1885.8,1043.1 1897.9,1040.1 1910.1,1037.6 1922.3,1046.4" fill="none" stroke="#7f6fc6" stroke-width="1.3" stroke-linejoin="round"/></g>
<line x1="1962.5" x2="1962.5" y1="10" y2="1111" stroke="#5d606b" stroke-width="1"/>
<line x1="10" x2="2037.5" y1="1080.5" y2="1080.5" stroke="#5d606b" stroke-width="1"/>
<text x="1972.1" y="963.1" font-size="13.5" fill="#2a2e39" textLength="55.9" lengthAdjust="spacingAndGlyphs">47400.00</text>
<text x="1972.1" y="909.1" font-size="13.5" fill="#2a2e39" textLength="55.9" lengthAdjust="spacingAndGlyphs">47440.00</text>
<text x="1972.1" y="855.1" font-size="13.5" fill="#2a2e39" textLength="55.9" lengthAdjust="spacingAndGlyphs">47480.00</text>
<text x="1972.1" y="747.1" font-size="13.5" fill="#2a2e39" textLength="55.9" lengthAdjust="spacingAndGlyphs">47560.00</text>
<text x="1972.1" y="693.1" font-size="13.5" fill="#2a2e39" textLength="55.9" lengthAdjust="spacingAndGlyphs">47600.00</text>
<text x="1972.1" y="639.1" font-size="13.5" fill="#2a2e39" textLength="55.9" lengthAdjust="spacingAndGlyphs">47640.00</text>
<text x="1972.1" y="585.1" font-size="13.5" fill="#2a2e39" textLength="55.9" lengthAdjust="spacingAndGlyphs">47680.00</text>
<text x="1972.1" y="532.1" font-size="13.5" fill="#2a2e39" textLength="55.9" lengthAdjust="spacingAndGlyphs">47720.00</text>
<text x="1972.1" y="478.1" font-size="13.5" fill="#2a2e39" textLength="55.9" lengthAdjust="spacingAndGlyphs">47760.00</text>
<text x="1972.1" y="425.1" font-size="13.5" fill="#2a2e39" textLength="55.9" lengthAdjust="spacingAndGlyphs">47800.00</text>
<text x="1972.1" y="371.1" font-size="13.5" fill="#2a2e39" textLength="55.9" lengthAdjust="spacingAndGlyphs">47840.00</text>
<text x="1972.1" y="317.1" font-size="13.5" fill="#2a2e39" textLength="55.9" lengthAdjust="spacingAndGlyphs">47880.00</text>
<text x="1972.1" y="263.1" font-size="13.5" fill="#2a2e39" textLength="55.9" lengthAdjust="spacingAndGlyphs">47920.00</text>
<text x="1972.1" y="209.1" font-size="13.5" fill="#2a2e39" textLength="55.9" lengthAdjust="spacingAndGlyphs">47960.00</text>
<text x="1972.1" y="155.1" font-size="13.5" fill="#2a2e39" textLength="55.9" lengthAdjust="spacingAndGlyphs">48000.00</text>
<text x="1972.1" y="101.1" font-size="13.5" fill="#2a2e39" textLength="55.9" lengthAdjust="spacingAndGlyphs">48040.00</text>
<text x="1972.1" y="48.1" font-size="13.5" fill="#2a2e39" textLength="55.9" lengthAdjust="spacingAndGlyphs">48080.00</text>
<text x="1972.4" y="997.9" font-size="13.5" fill="#2a2e39" textLength="33.4" lengthAdjust="spacingAndGlyphs">80.00</text>
<text x="1972.4" y="1049.9" font-size="13.5" fill="#2a2e39" textLength="33.4" lengthAdjust="spacingAndGlyphs">40.00</text>
<text x="16.6" y="1100.9" font-size="13.5" font-weight="bold" fill="#2a2e39" textLength="14.6" lengthAdjust="spacingAndGlyphs">29</text>
<text x="152.6" y="1100.9" font-size="13.5" fill="#2a2e39" textLength="34.2" lengthAdjust="spacingAndGlyphs">08:00</text>
<text x="298.6" y="1100.9" font-size="13.5" fill="#2a2e39" textLength="34.2" lengthAdjust="spacingAndGlyphs">09:00</text>
<text x="444.7" y="1100.9" font-size="13.5" fill="#2a2e39" textLength="34.2" lengthAdjust="spacingAndGlyphs">10:00</text>
<text x="590.7" y="1100.9" font-size="13.5" fill="#2a2e39" textLength="34.2" lengthAdjust="spacingAndGlyphs">11:00</text>
<text x="736.8" y="1100.9" font-size="13.5" fill="#2a2e39" textLength="34.2" lengthAdjust="spacingAndGlyphs">12:00</text>
<text x="882.8" y="1100.9" font-size="13.5" fill="#2a2e39" textLength="34.2" lengthAdjust="spacingAndGlyphs">13:00</text>
<text x="1028.8" y="1100.9" font-size="13.5" fill="#2a2e39" textLength="34.2" lengthAdjust="spacingAndGlyphs">14:00</text>
<text x="1174.9" y="1100.9" font-size="13.5" fill="#2a2e39" textLength="34.2" lengthAdjust="spacingAndGlyphs">15:00</text>
<text x="1320.9" y="1100.9" font-size="13.5" fill="#2a2e39" textLength="34.2" lengthAdjust="spacingAndGlyphs">16:00</text>
<text x="1467.0" y="1100.9" font-size="13.5" fill="#2a2e39" textLength="34.2" lengthAdjust="spacingAndGlyphs">17:00</text>
<text x="1613.0" y="1100.9" font-size="13.5" fill="#2a2e39" textLength="34.2" lengthAdjust="spacingAndGlyphs">18:00</text>
<text x="1759.0" y="1100.9" font-size="13.5" fill="#2a2e39" textLength="34.2" lengthAdjust="spacingAndGlyphs">19:00</text>
<text x="1905.1" y="1100.9" font-size="13.5" fill="#2a2e39" textLength="34.2" lengthAdjust="spacingAndGlyphs">20:00</text>
<g font-size="12" fill="#3a3a3a">
<text x="18.8" y="29.8" textLength="36.2" lengthAdjust="spacingAndGlyphs">DJIA, 5</text>
<text x="62.5" y="29.8" textLength="55" lengthAdjust="spacingAndGlyphs">O47612.21</text>
<text x="126.2" y="29.8" textLength="55" lengthAdjust="spacingAndGlyphs">H47688.77</text>
<text x="189.5" y="29.8" textLength="53" lengthAdjust="spacingAndGlyphs">L47523.10</text>
<text x="250" y="29.8" textLength="54.5" lengthAdjust="spacingAndGlyphs">C47523.83</text>
<text x="312.5" y="29.8" textLength="35" lengthAdjust="spacingAndGlyphs">−89.42</text>
<text x="351.2" y="29.8" textLength="45" lengthAdjust="spacingAndGlyphs">(−0.19%)</text>
<text x="18.8" y="46.6" textLength="95" lengthAdjust="spacingAndGlyphs">EMA (50, close, 0)</text>
<text x="18.8" y="63.2" textLength="101.2" lengthAdjust="spacingAndGlyphs">EMA (200, close, 0)</text>
<text x="127.5" y="63.2" textLength="47.5" lengthAdjust="spacingAndGlyphs">47765.19</text>
<text x="18.6" y="996.6" textLength="39.8" lengthAdjust="spacingAndGlyphs">RSI (14)</text>
<text x="67.2" y="996.6" fill="#7e57c2" textLength="27.8" lengthAdjust="spacingAndGlyphs">38.38</text>
</g>
<path d="M1926.0 97.4 H1962.0 V116.7 H1926.0 Q1924.0 116.7 1924.0 114.7 V99.4 Q1924.0 97.4 1926.0 97.4 Z" fill="#000"/>
<path d="M1963.0 97.4 H2031.7 Q2033.7 97.4 2033.7 99.4 V114.7 Q2033.7 116.7 2031.7 116.7 H1963.0 V97.4 Z" fill="#000"/>
<text x="1929" y="111.2" font-size="12.5" font-weight="bold" fill="#fff" textLength="27" lengthAdjust="spacingAndGlyphs">High</text>
<text x="1972.2" y="111.6" font-size="13.5" fill="#fff" lengthAdjust="spacingAndGlyphs" textLength="54.5">48032.51</text>
<path d="M1928.2 888.4 H1962.0 V907.5 H1928.2 Q1926.2 907.5 1926.2 905.5 V890.4 Q1926.2 888.4 1928.2 888.4 Z" fill="#000"/>
<path d="M1963.0 888.4 H2031.6 Q2033.6 888.4 2033.6 890.4 V905.5 Q2033.6 907.5 2031.6 907.5 H1963.0 V888.4 Z" fill="#000"/>
<text x="1931.8" y="902.4" font-size="12.5" font-weight="bold" fill="#fff" textLength="24" lengthAdjust="spacingAndGlyphs">Low</text>
<text x="1971.8" y="902.6" font-size="13.5" fill="#fff" lengthAdjust="spacingAndGlyphs" textLength="55.6">47444.37</text>
<path d="M1963.0 781.2 H2031.5 Q2033.5 781.2 2033.5 783.2 V798.4 Q2033.5 800.4 2031.5 800.4 H1963.0 V781.2 Z" fill="#000"/>
<text x="1972.4" y="795.6" font-size="13.5" fill="#fff" lengthAdjust="spacingAndGlyphs" textLength="55">47523.83</text>
<line x1="1962.5" x2="1962.5" y1="97.4" y2="116.7" stroke="#8a8a8a" stroke-width="1"/>
<line x1="1962.5" x2="1962.5" y1="888.4" y2="907.5" stroke="#8a8a8a" stroke-width="1"/>
<path d="M10.1 1124.7 H18.6 V1134.3 H14 V1128.6 H10.1 Z" fill="#131722"/><circle cx="21.4" cy="1126.6" r="1.8" fill="#131722"/><path d="M24.6 1124.7 H29.3 L26.1 1134.3 H21.4 Z" fill="#131722"/>
<text x="33.3" y="1134.2" font-size="12.5" fill="#50535e" textLength="69" lengthAdjust="spacingAndGlyphs">TradingView</text>
</svg></body></html>
